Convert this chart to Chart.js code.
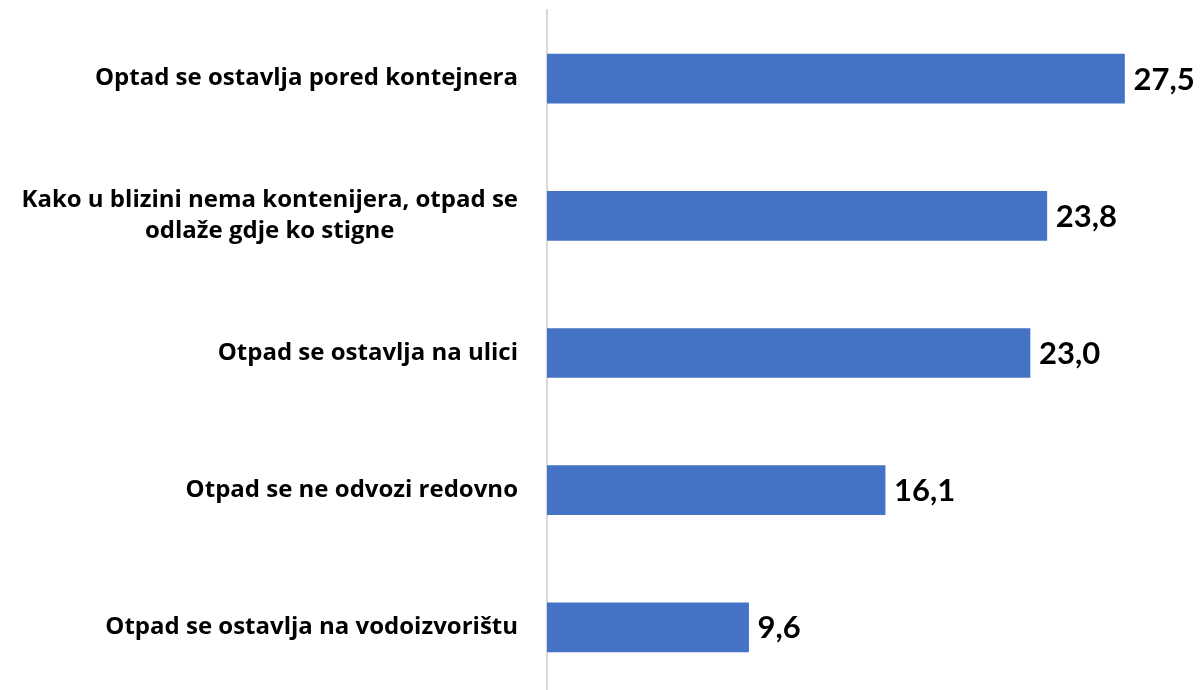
<!DOCTYPE html>
<html><head><meta charset="utf-8">
<script src="https://cdn.jsdelivr.net/npm/chart.js@4/dist/chart.umd.min.js"></script>
<style>html,body{margin:0;padding:0;background:#fff;overflow:hidden}#wrap{width:1203px;height:690px;overflow:hidden}</style>
</head><body><div id="wrap"><canvas id="c" width="1203" height="696"></canvas></div>
<script>
const categories = [
  "Optad se ostavlja pored kontejnera",
  ["Kako u blizini nema kontenijera, otpad se", "odlaže gdje ko stigne"],
  "Otpad se ostavlja na ulici",
  "Otpad se ne odvozi redovno",
  "Otpad se ostavlja na vodoizvorištu"
];
const values = [27.5, 23.8, 23.0, 16.1, 9.6];
const valueLabels = ["27,5", "23,8", "23,0", "16,1", "9,6"];

const LABEL_FONT = "bold 24px 'Open Sans', sans-serif";
const VALUE_FONT = "bold 31px Lato, sans-serif";

const labelPlugin = {
  id: 'cats',
  afterDraw(chart) {
    const ctx = chart.ctx;
    const yScale = chart.scales.y;
    const right = yScale.right - 29;
    ctx.save();
    ctx.font = LABEL_FONT;
    ctx.fillStyle = "#000";
    ctx.textBaseline = "middle";
    ctx.textAlign = "center";
    categories.forEach((lab, i) => {
      const lines = Array.isArray(lab) ? lab : [lab];
      const w = Math.max(...lines.map(l => ctx.measureText(l).width));
      const cx = right - w / 2;
      const y0 = yScale.getPixelForValue(i);
      const lh = 31;
      lines.forEach((l, j) => {
        ctx.fillText(l, cx, y0 + (j - (lines.length - 1) / 2) * lh);
      });
    });
    ctx.restore();
  }
};

const valuePlugin = {
  id: 'vals',
  afterDatasetsDraw(chart) {
    const ctx = chart.ctx;
    const meta = chart.getDatasetMeta(0);
    ctx.save();
    ctx.font = VALUE_FONT;
    ctx.fillStyle = "#000";
    ctx.textAlign = "left";
    ctx.textBaseline = "middle";
    meta.data.forEach((bar, i) => {
      ctx.fillText(valueLabels[i], bar.x + 9, bar.y + 1);
    });
    ctx.restore();
  }
};

new Chart(document.getElementById('c'), {
  type: 'bar',
  data: {
    labels: categories,
    datasets: [{
      data: values,
      backgroundColor: '#4472C4',
      borderWidth: 0,
      barThickness: 49
    }]
  },
  options: {
    indexAxis: 'y',
    responsive: false,
    animation: false,
    layout: { padding: { top: 10, bottom: 0, left: 0, right: 26 } },
    plugins: { legend: { display: false }, tooltip: { enabled: false } },
    scales: {
      x: { display: false, min: 0, max: 30 },
      y: {
        grid: { display: false, drawTicks: false },
        border: { display: true, color: '#d9d9d9', width: 2 },
        ticks: { display: false },
        afterFit(scale) { scale.width = 547; scale.paddingTop = 0; scale.paddingBottom = 0; }
      }
    }
  },
  plugins: [valuePlugin, labelPlugin]
});
</script></body></html>
